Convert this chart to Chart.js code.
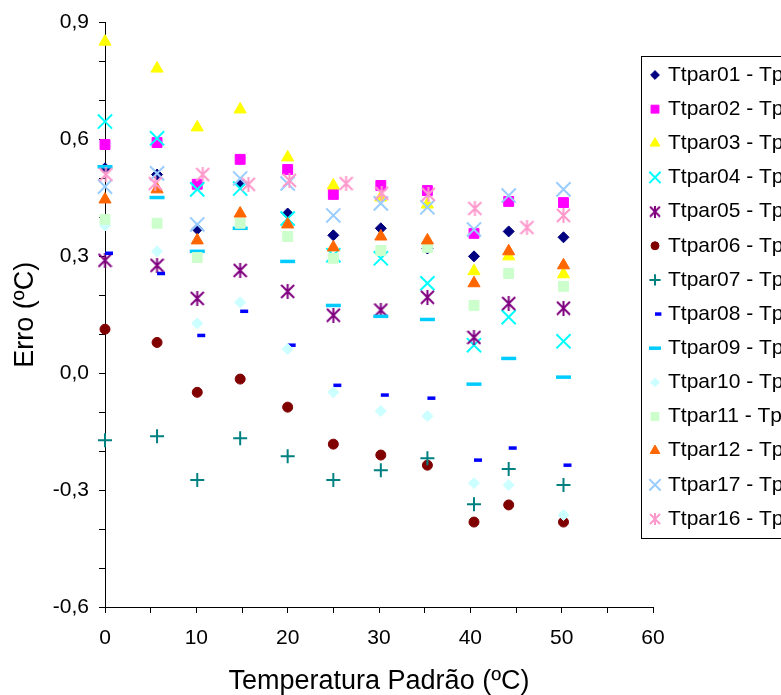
<!DOCTYPE html>
<html>
<head>
<meta charset="utf-8">
<script src="https://cdn.jsdelivr.net/npm/chart.js@4.4.1/dist/chart.umd.min.js"></script>
<style>
  body { margin: 0; background: #fff; overflow: hidden; }
  canvas { display: block; }
</style>
</head>
<body>
<canvas id="erroChart" width="781" height="695"></canvas>
<script>
// temperatura padrao (x) of each reading
const tempPadrao  = [0, 5.7, 10.1, 14.8, 20, 25, 30.2, 35.3, 40.4, 44.2, 50.2];
const tempTtpar16 = [0.1, 5.5, 10.7, 15.7, 20.2, 26.4, 30.3, 35.4, 40.5, 46.2, 50.2];

// erro (y) for every sensor
const erroTtpar01 = [0.526, 0.510, 0.370, 0.487, 0.410, 0.354, 0.372, 0.320, 0.300, 0.364, 0.349];
const erroTtpar02 = [0.587, 0.592, 0.485, 0.549, 0.523, 0.459, 0.482, 0.469, 0.359, 0.441, 0.438];
const erroTtpar03 = [0.851, 0.782, 0.631, 0.677, 0.554, 0.482, 0.451, 0.433, 0.262, 0.300, 0.254];
const erroTtpar04 = [0.646, 0.603, 0.472, 0.474, 0.397, 0.303, 0.295, 0.231, 0.072, 0.144, 0.082];
const erroTtpar05 = [0.290, 0.277, 0.192, 0.264, 0.210, 0.149, 0.162, 0.195, 0.092, 0.179, 0.167];
const erroTtpar06 = [0.113, 0.079, -0.049, -0.015, -0.087, -0.182, -0.210, -0.236, -0.382, -0.338, -0.382];
const erroTtpar07 = [-0.172, -0.162, -0.274, -0.167, -0.213, -0.274, -0.249, -0.218, -0.336, -0.246, -0.287];
const erroTtpar08 = [0.308, 0.256, 0.097, 0.159, 0.072, -0.031, -0.056, -0.064, -0.223, -0.192, -0.236];
const erroTtpar09 = [0.530, 0.451, 0.313, 0.372, 0.287, 0.174, 0.146, 0.138, -0.028, 0.038, -0.010];
const erroTtpar10 = [0.379, 0.313, 0.128, 0.182, 0.062, -0.049, -0.097, -0.110, -0.282, -0.287, -0.364];
const erroTtpar11 = [0.395, 0.385, 0.297, 0.385, 0.351, 0.295, 0.315, 0.323, 0.174, 0.256, 0.223];
const erroTtpar12 = [0.446, 0.472, 0.341, 0.410, 0.382, 0.323, 0.351, 0.341, 0.231, 0.313, 0.277];
const erroTtpar17 = [0.479, 0.513, 0.382, 0.500, 0.487, 0.405, 0.436, 0.426, 0.369, 0.456, 0.472];
const erroTtpar16 = [0.510, 0.487, 0.510, 0.485, 0.495, 0.487, 0.462, 0.459, 0.423, 0.374, 0.405];

const seriesNames = ['Ttpar01 - Tpadrão', 'Ttpar02 - Tpadrão', 'Ttpar03 - Tpadrão', 'Ttpar04 - Tpadrão',
  'Ttpar05 - Tpadrão', 'Ttpar06 - Tpadrão', 'Ttpar07 - Tpadrão', 'Ttpar08 - Tpadrão', 'Ttpar09 - Tpadrão',
  'Ttpar10 - Tpadrão', 'Ttpar11 - Tpadrão', 'Ttpar12 - Tpadrão', 'Ttpar17 - Tpadrão', 'Ttpar16 - Tpadrão'];

// axis ticks
const yTickValues = [-0.6, -0.3, 0, 0.3, 0.6, 0.9];
const yTickLabels = ['-0,6', '-0,3', '0,0', '0,3', '0,6', '0,9'];
const xTickValues = [0, 10, 20, 30, 40, 50, 60];
const xTickLabels = ['0', '10', '20', '30', '40', '50', '60'];

const FONT = '"Liberation Sans", Arial, sans-serif';

// excel style asterisk: X plus a vertical bar
function asterisk(color, size) {
    var c = document.createElement('canvas');
    c.width = size;
    c.height = size;
    var g = c.getContext('2d');
    g.strokeStyle = color;
    g.lineWidth = 2;
    g.beginPath();
    g.moveTo(1, 1); g.lineTo(size - 1, size - 1);
    g.moveTo(size - 1, 1); g.lineTo(1, size - 1);
    g.moveTo(size / 2, 0); g.lineTo(size / 2, size);
    g.stroke();
    return c;
}

// marker styles, one per series
const markerStyles = [
    { color: '#000080', style: 'rectRot', radius: 5.5, width: 1 },
    { color: '#FF00FF', style: 'rect', radius: 7, width: 1 },
    { color: '#FFFF00', style: 'triangle', radius: 7, width: 1 },
    { color: '#00FFFF', style: 'crossRot', radius: 10, width: 2 },
    { color: '#800080', style: asterisk('#800080', 15), legend: asterisk('#800080', 12), radius: 7, width: 2 },
    { color: '#800000', style: 'circle', radius: 5, width: 1 },
    { color: '#008080', style: 'cross', radius: 7, width: 2 },
    { color: '#0000FF', style: 'dash', radius: 8, width: 3.5 },
    { color: '#00CCFF', style: 'line', radius: 7.5, width: 3.5 },
    { color: '#CCFFFF', style: 'rectRot', radius: 5.5, width: 1 },
    { color: '#CCFFCC', style: 'rect', radius: 7, width: 1 },
    { color: '#FF6600', style: 'triangle', radius: 7, width: 1 },
    { color: '#99CCFF', style: 'crossRot', radius: 10, width: 2 },
    { color: '#FF99CC', style: asterisk('#FF99CC', 15), legend: asterisk('#FF99CC', 12), radius: 7, width: 2 }
];

const seriesValues = [erroTtpar01, erroTtpar02, erroTtpar03, erroTtpar04, erroTtpar05, erroTtpar06, erroTtpar07,
    erroTtpar08, erroTtpar09, erroTtpar10, erroTtpar11, erroTtpar12, erroTtpar17, erroTtpar16];
const seriesTemps = seriesValues.map((v, i) => i === 13 ? tempTtpar16 : tempPadrao);

const datasets = seriesValues.map((values, i) => {
    var m = markerStyles[i];
    return {
        label: seriesNames[i],
        data: values.map((y, j) => ({ x: seriesTemps[i][j], y: y })),
        showLine: false,
        pointStyle: m.style,
        legendStyle: m.legend || m.style,
        pointRadius: m.radius,
        pointHoverRadius: m.radius,
        pointBorderWidth: m.width,
        backgroundColor: m.color,
        borderColor: m.color,
        clip: false,
        order: -i   // later series on top, like excel
    };
});

function findLabel(value, values, labels) {
    for (let i = 0; i < values.length; i++) {
        if (Math.abs(values[i] - value) < 1e-6) return labels[i];
    }
    return '';
}

// legend drawn as a framed box over the right side of the plot
const legendBox = {
    id: 'legendBox',
    afterDraw(chart) {
        const ctx = chart.ctx;
        const left = 641, top = 56, rowTop = 75, rowStep = 34.15;
        ctx.save();
        ctx.fillStyle = '#fff';
        ctx.fillRect(left, top, 200, 482);
        ctx.strokeStyle = '#000';
        ctx.lineWidth = 1;
        ctx.strokeRect(left + 0.5, top + 0.5, 200, 482);
        chart.data.datasets.forEach((ds, i) => {
            const y = rowTop + i * rowStep;
            ctx.fillStyle = ds.backgroundColor;
            ctx.strokeStyle = ds.borderColor;
            ctx.lineWidth = ds.pointBorderWidth;
            Chart.helpers.drawPoint(ctx, {
                pointStyle: ds.legendStyle,
                radius: ds.pointRadius * 0.8,
                rotation: 0,
                borderWidth: ds.pointBorderWidth
            }, left + 14, y);
            ctx.fillStyle = '#000';
            ctx.font = '21px ' + FONT;
            ctx.textBaseline = 'middle';
            ctx.textAlign = 'left';
            ctx.fillText(ds.label, left + 27, y);
        });
        ctx.restore();
    }
};

new Chart(document.getElementById('erroChart'), {
    type: 'scatter',
    data: { datasets: datasets },
    options: {
        responsive: false,
        animation: false,
        devicePixelRatio: 1,
        layout: { padding: { top: 22, right: 128, bottom: 0, left: 0 } },
        plugins: {
            legend: { display: false },
            tooltip: { enabled: false }
        },
        scales: {
            x: {
                type: 'linear',
                min: 0,
                max: 60,
                afterBuildTicks: (s) => {
                    var t = [];
                    for (let v = 0; v <= 60; v += 5) t.push({ value: v });
                    s.ticks = t;
                },
                afterFit: (s) => { s.height = 88; },
                ticks: {
                    autoSkip: false,
                    maxRotation: 0,
                    padding: 13,
                    color: '#000',
                    font: { family: FONT, size: 21 },
                    callback: (v) => findLabel(v, xTickValues, xTickLabels)
                },
                grid: { drawOnChartArea: false, drawTicks: true, tickLength: 6, tickColor: '#000' },
                border: { color: '#000', width: 1 },
                title: {
                    display: true,
                    text: 'Temperatura Padrão (ºC)',
                    color: '#000',
                    font: { family: FONT, size: 27, lineHeight: 1 },
                    padding: { top: 0, bottom: 0 }
                }
            },
            y: {
                type: 'linear',
                min: -0.6,
                max: 0.9,
                afterBuildTicks: (s) => {
                    var t = [];
                    for (let v = -6; v <= 9; v++) t.push({ value: v / 10 });
                    s.ticks = t;
                },
                afterFit: (s) => { s.width = 105; },
                ticks: {
                    autoSkip: false,
                    padding: 10,
                    color: '#000',
                    font: { family: FONT, size: 21 },
                    callback: (v) => findLabel(v, yTickValues, yTickLabels)
                },
                grid: { drawOnChartArea: false, drawTicks: true, tickLength: 6, tickColor: '#000' },
                border: { color: '#000', width: 1 },
                title: {
                    display: true,
                    text: 'Erro (ºC)',
                    color: '#000',
                    font: { family: FONT, size: 27, lineHeight: 1 },
                    padding: { top: 12, bottom: 0 }
                }
            }
        }
    },
    plugins: [legendBox]
});
</script>
</body>
</html>
